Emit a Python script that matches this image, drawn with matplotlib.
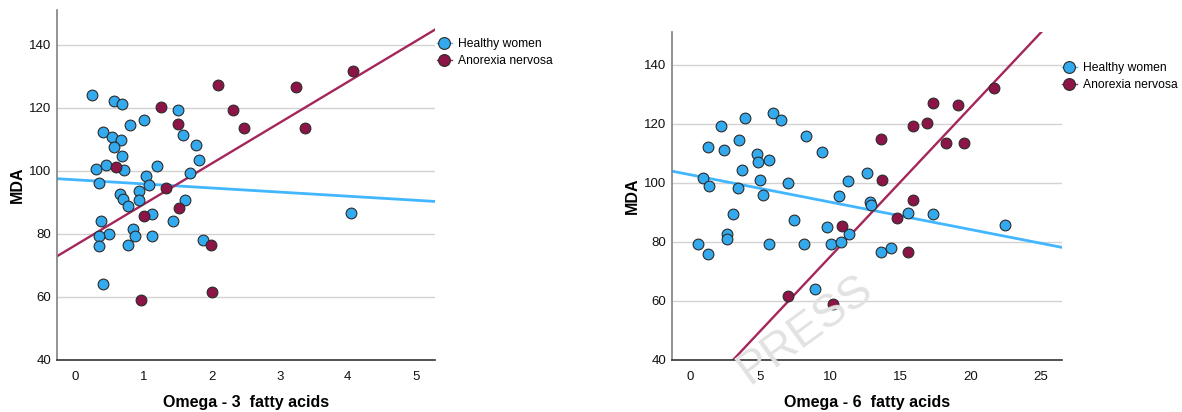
import matplotlib
matplotlib.use("Agg")
import matplotlib.pyplot as plt
from matplotlib.lines import Line2D
import numpy as np

# ---------------- data ----------------
# Omega-3 panel
o3_healthy_x = [0.25, 0.56, 0.68, 0.40, 0.80, 1.01, 1.50, 0.54, 0.67, 1.58, 0.57, 0.69, 1.77, 1.82,
                0.30, 0.45, 0.72, 1.20, 0.34, 1.04, 1.08, 1.69, 0.66, 0.93, 0.70, 0.93, 0.77, 1.61,
                1.12, 0.38, 1.43, 0.50, 0.84, 0.35, 0.88, 1.13, 0.77, 0.34, 1.88, 0.40, 4.05]
o3_healthy_y = [123.9, 122.2, 121.1, 112.3, 114.4, 116.1, 119.3, 110.7, 109.8, 111.5, 107.4, 104.7, 108.2, 103.5,
                100.6, 101.9, 100.2, 101.5, 96.0, 98.5, 95.6, 99.2, 92.5, 93.6, 91.1, 90.7, 88.7, 90.6,
                86.2, 84.2, 84.1, 80.0, 81.4, 79.3, 79.3, 79.2, 76.6, 76.0, 78.1, 64.0, 86.5]
o3_anorexia_x = [0.60, 1.25, 1.50, 1.33, 1.52, 1.01, 2.10, 2.32, 2.48, 3.24, 3.37, 4.07, 1.99, 2.00, 0.96]
o3_anorexia_y = [101.2, 120.3, 114.7, 94.4, 88.3, 85.8, 127.2, 119.4, 113.5, 126.5, 113.7, 131.8, 76.6, 61.7, 59.1]

# Omega-6 panel
o6_healthy_x = [0.57, 1.29, 0.90, 1.33, 1.24, 2.21, 2.40, 3.45, 3.90, 3.69, 3.38, 3.02, 2.60, 2.60,
                4.79, 4.81, 5.60, 4.95, 5.17, 5.93, 6.48, 6.95, 5.62, 7.40, 8.10, 8.26, 9.36, 8.86,
                9.74, 10.05, 10.76, 10.60, 11.21, 11.31, 12.62, 12.81, 12.90, 13.60, 14.33, 15.55,
                17.33, 22.43]
o6_healthy_y = [79.1, 75.8, 101.5, 98.9, 112.1, 119.1, 111.1, 114.3, 122.0, 104.4, 98.2, 89.3, 82.8, 80.8,
                109.7, 107.1, 107.8, 101.0, 95.7, 123.7, 121.1, 100.0, 79.1, 87.4, 79.1, 115.9, 110.5, 63.9,
                85.0, 79.1, 79.9, 95.5, 100.5, 82.8, 103.4, 93.4, 92.4, 76.4, 78.0, 89.9,
                89.3, 85.7]
o6_anorexia_x = [6.98, 10.21, 10.81, 13.57, 13.69, 14.71, 15.88, 15.50, 15.88, 16.88, 17.31, 18.21,
                 19.12, 19.48, 21.62]
o6_anorexia_y = [61.5, 58.9, 85.5, 114.8, 100.8, 88.1, 94.2, 76.4, 119.3, 120.1, 127.0, 113.4,
                 126.4, 113.5, 131.9]

# fit lines (intercept, slope)
o3_fit_healthy = (97.15, -1.30)
o3_fit_anorexia = (76.4, 12.95)
o6_fit_healthy = (102.7, -0.928)
o6_fit_anorexia = (24.6, 5.05)

group_labels = ["Healthy women", "Anorexia nervosa"]
y_ticks = [40, 60, 80, 100, 120, 140]
o3_x_ticks = [0, 1, 2, 3, 4, 5]
o6_x_ticks = [0, 5, 10, 15, 20, 25]

# ---------------- style ----------------
W, H = 1182, 412
BLUE = "#33A9EE"
MAROON = "#8C1446"
BLUE_LINE = "#42B6FF"
MAROON_LINE = "#A4265A"
EDGE = "#2b2b2b"
REG = ["Liberation Sans", "DejaVu Sans"]

fig = plt.figure(figsize=(W / 100, H / 100), dpi=100)
fig.patch.set_facecolor("white")


def px_rect(x0, y0, x1, y1):
    return [x0 / W, 1 - y1 / H, (x1 - x0) / W, (y1 - y0) / H]


def make_panel(rect, hx, hy, ax_, ay_, fit_h, fit_a, xticks, xlim, xlabel, legend_px):
    ax = fig.add_axes(rect)
    ax.set_xlim(*xlim)
    ax.set_ylim(40, 151)
    ax.set_yticks(y_ticks)
    ax.set_xticks(xticks)
    ax.tick_params(length=0, labelsize=9.5, colors="#111111")
    ax.tick_params(axis="y", pad=4)
    ax.tick_params(axis="x", pad=8)
    for lab in ax.get_xticklabels() + ax.get_yticklabels():
        lab.set_family(REG)
    for s in ("top", "right"):
        ax.spines[s].set_visible(False)
    ax.spines["left"].set_color("#808080")
    ax.spines["left"].set_linewidth(1.2)
    ax.spines["bottom"].set_color("#333333")
    ax.spines["bottom"].set_linewidth(1.2)
    for yv in y_ticks[1:]:
        ax.axhline(yv, color="#d2d2d2", lw=1.0, zorder=0)

    xs = np.array(xlim)
    ax.plot(xs, fit_h[0] + fit_h[1] * xs, color=BLUE_LINE, lw=2.0, zorder=2)
    ax.plot(xs, fit_a[0] + fit_a[1] * xs, color=MAROON_LINE, lw=1.7, zorder=2)
    ax.scatter(hx, hy, s=60, color=BLUE, edgecolor=EDGE, linewidth=0.8, zorder=3)
    ax.scatter(ax_, ay_, s=60, color=MAROON, edgecolor=EDGE, linewidth=0.8, zorder=3)

    ax.set_xlabel(xlabel, fontsize=11.5, fontweight="bold", family=REG, va="top")
    ax.set_ylabel("MDA", fontsize=11.5, fontweight="bold", family=REG)
    ax.xaxis.set_label_coords(0.5, -35 / (rect[3] * H))
    ax.yaxis.set_label_coords(-32 / (rect[2] * W), 0.5)

    handles = [
        Line2D([], [], color=BLUE_LINE, lw=1.0, marker="o", markersize=8.5,
               markerfacecolor=BLUE, markeredgecolor=EDGE, markeredgewidth=0.8),
        Line2D([], [], color=MAROON_LINE, lw=1.0, marker="o", markersize=8.5,
               markerfacecolor=MAROON, markeredgecolor=EDGE, markeredgewidth=0.8),
    ]
    ax.legend(handles, group_labels, loc="upper left",
              bbox_to_anchor=(legend_px[0] / W, 1 - legend_px[1] / H),
              bbox_transform=fig.transFigure, frameon=False,
              prop={"family": REG, "size": 8.7}, handlelength=1.2,
              handletextpad=0.5, labelspacing=0.45, borderpad=0, borderaxespad=0)
    return ax


make_panel(px_rect(57, 10, 435, 360), o3_healthy_x, o3_healthy_y, o3_anorexia_x, o3_anorexia_y,
           o3_fit_healthy, o3_fit_anorexia, o3_x_ticks, (-0.27, 5.28),
           "Omega - 3  fatty acids", (437, 38))
make_panel(px_rect(672, 32, 1062, 360), o6_healthy_x, o6_healthy_y, o6_anorexia_x, o6_anorexia_y,
           o6_fit_healthy, o6_fit_anorexia, o6_x_ticks, (-1.3, 26.5),
           "Omega - 6  fatty acids", (1062, 62))

# faint watermark
fig.text(805 / W, 1 - 330 / H, "PRESS", rotation=36, rotation_mode="anchor",
         ha="center", va="center", fontsize=33, color="#e2e2e2", family=REG,
         zorder=10)

fig.savefig("out.png", dpi=100)
